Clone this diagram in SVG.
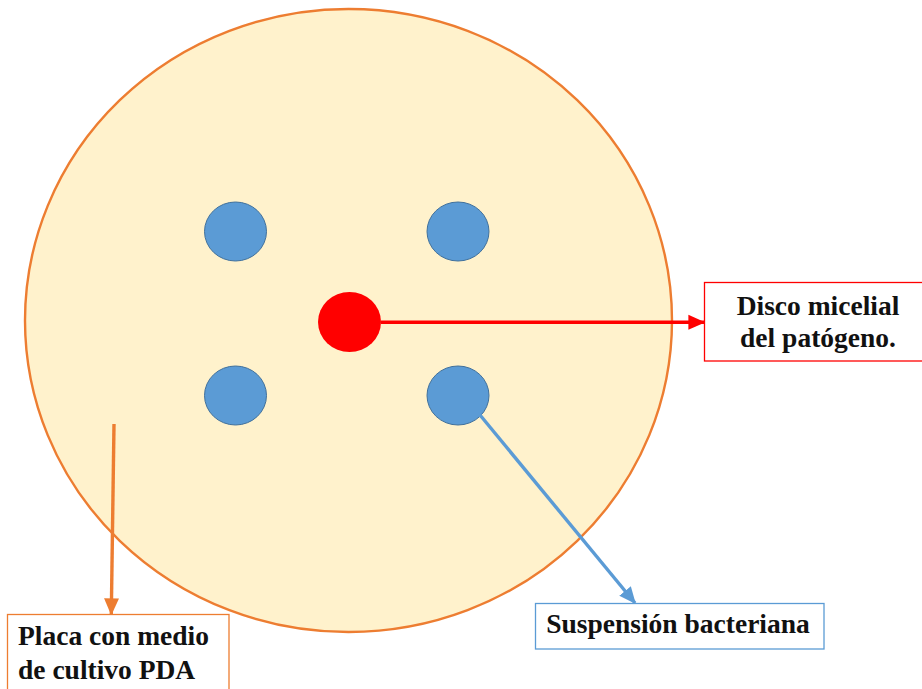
<svg xmlns="http://www.w3.org/2000/svg" width="922" height="689" viewBox="0 0 922 689">
  <style>
    text { font-family: 'Liberation Serif', 'Times New Roman', Times, 'DejaVu Serif', serif; font-weight: 700; font-size: 27.5px; fill: #111111; }
    .dot { fill: #5b9bd5; stroke: #41719c; stroke-width: 1; }
  </style>
  <defs>
    <marker id="arrRed" markerWidth="5" markerHeight="5" refX="4.6" refY="2.2" orient="auto" markerUnits="strokeWidth" viewBox="0 0 5 4.4">
      <path d="M0,0 L5,2.2 L0,4.4 Z" fill="#ff0000"/>
    </marker>
    <marker id="arrBlue" markerWidth="5" markerHeight="5" refX="4.6" refY="2.2" orient="auto" markerUnits="strokeWidth" viewBox="0 0 5 4.4">
      <path d="M0,0 L5,2.2 L0,4.4 Z" fill="#5b9bd5"/>
    </marker>
    <marker id="arrOrange" markerWidth="5" markerHeight="5" refX="4.6" refY="2.2" orient="auto" markerUnits="strokeWidth" viewBox="0 0 5 4.4">
      <path d="M0,0 L5,2.2 L0,4.4 Z" fill="#ed7d31"/>
    </marker>
  </defs>
  <rect width="922" height="689" fill="#ffffff"/>

  <g id="plate">
    <ellipse cx="348.5" cy="320.5" rx="323.5" ry="311.5" fill="#fff2cc" stroke="#ed7d31" stroke-width="2.4"/>
  </g>

  <g id="dot-top-left"><ellipse class="dot" cx="235.5" cy="231.5" rx="31" ry="29.5"/></g>
  <g id="dot-top-right"><ellipse class="dot" cx="458" cy="231.5" rx="31" ry="29.5"/></g>
  <g id="dot-bottom-left"><ellipse class="dot" cx="235.5" cy="395.5" rx="31" ry="29.5"/></g>
  <g id="dot-bottom-right"><ellipse class="dot" cx="458" cy="395.5" rx="31" ry="29.5"/></g>
  <g id="disk-center"><ellipse cx="349.5" cy="322" rx="31.5" ry="30" fill="#ff0000"/></g>

  <g id="connectors" fill="none" stroke-width="3.4">
    <line x1="381" y1="322.3" x2="704" y2="322.3" stroke="#ff0000" marker-end="url(#arrRed)"/>
    <line x1="480" y1="415" x2="635" y2="603" stroke="#5b9bd5" marker-end="url(#arrBlue)"/>
    <line x1="114" y1="424" x2="111.3" y2="614" stroke="#ed7d31" marker-end="url(#arrOrange)"/>
  </g>

  <g id="label-disco">
    <rect x="704.5" y="282.5" width="230" height="78.5" fill="#ffffff" stroke="#ff0000" stroke-width="1.3"/>
    <text x="818" y="315" text-anchor="middle" font-family="Liberation Serif, serif">Disco micelial</text>
    <text x="818" y="347" text-anchor="middle" font-family="Liberation Serif, serif">del patógeno.</text>
  </g>

  <g id="label-suspension">
    <rect x="535.5" y="603.5" width="288.5" height="45.5" fill="#ffffff" stroke="#5b9bd5" stroke-width="1.3"/>
    <text x="678" y="633" text-anchor="middle" font-family="Liberation Serif, serif">Suspensión bacteriana</text>
  </g>

  <g id="label-placa">
    <rect x="7.5" y="614.5" width="221.5" height="90" fill="#ffffff" stroke="#ed7d31" stroke-width="1.3"/>
    <text x="18" y="645" font-family="Liberation Serif, serif">Placa con medio</text>
    <text x="18" y="679" font-family="Liberation Serif, serif">de cultivo PDA</text>
  </g>
</svg>
